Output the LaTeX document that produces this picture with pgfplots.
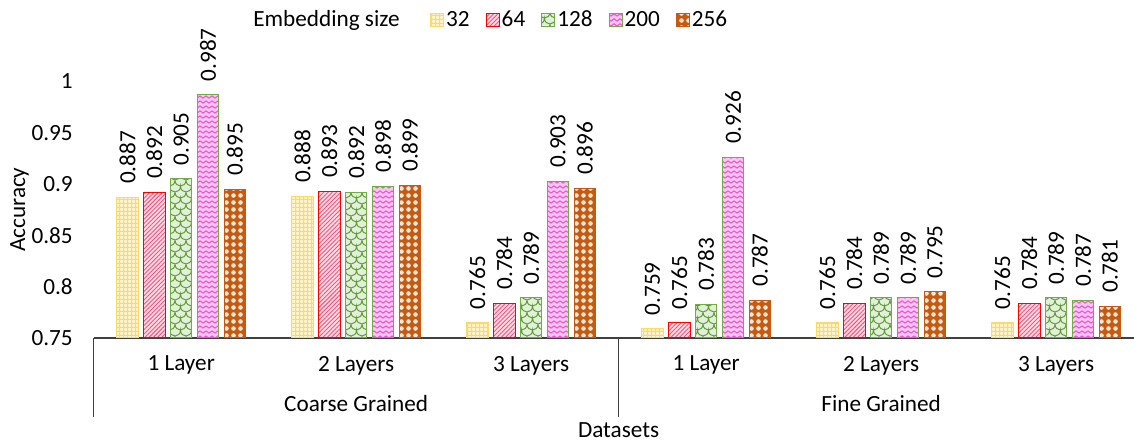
\documentclass[border=0pt]{standalone}
\usepackage{pgfplots}
\pgfplotsset{compat=1.18}
\usepackage{fontspec}
\setmainfont{Carlito}
\usetikzlibrary{patterns,patterns.meta}

\definecolor{c32line}{HTML}{FFD966}
\definecolor{c32fill}{HTML}{FFF5D0}
\definecolor{c32pat}{HTML}{FFD966}
\definecolor{c64line}{HTML}{FF0000}
\definecolor{c64fill}{HTML}{FFDCE6}
\definecolor{c64pat}{HTML}{FF4F78}
\definecolor{cgreen}{HTML}{70AD47}
\definecolor{c128fill}{HTML}{E2F0D9}
\definecolor{c128pat}{HTML}{5E9A3A}
\definecolor{c200fill}{HTML}{FFC6F2}
\definecolor{c200pat}{HTML}{EE55D5}
\definecolor{c256line}{HTML}{C55A11}
\definecolor{c256fill}{HTML}{C55A11}
\definecolor{c256pat}{HTML}{FBE5D6}
\definecolor{axgray}{HTML}{404040}

% small grid
\pgfdeclarepatternformonly{smallgrid}{\pgfqpoint{0pt}{0pt}}{\pgfqpoint{2pt}{2pt}}{\pgfqpoint{2pt}{2pt}}{%
  \pgfsetlinewidth{0.55pt}%
  \pgfpathmoveto{\pgfqpoint{0pt}{0.3pt}}\pgfpathlineto{\pgfqpoint{2pt}{0.3pt}}%
  \pgfpathmoveto{\pgfqpoint{0.3pt}{0pt}}\pgfpathlineto{\pgfqpoint{0.3pt}{2pt}}%
  \pgfusepath{stroke}}
% scales (shingle-like)
\pgfdeclarepatternformonly{scales}{\pgfqpoint{0pt}{0pt}}{\pgfqpoint{5.5pt}{6pt}}{\pgfqpoint{5.5pt}{6pt}}{%
  \pgfsetlinewidth{0.5pt}%
  \pgfpathmoveto{\pgfqpoint{0pt}{6pt}}%
  \pgfpathcurveto{\pgfqpoint{0pt}{2pt}}{\pgfqpoint{5.5pt}{2pt}}{\pgfqpoint{5.5pt}{6pt}}%
  \pgfpathmoveto{\pgfqpoint{-2.75pt}{3pt}}%
  \pgfpathcurveto{\pgfqpoint{-2.75pt}{-1pt}}{\pgfqpoint{2.75pt}{-1pt}}{\pgfqpoint{2.75pt}{3pt}}%
  \pgfpathcurveto{\pgfqpoint{2.75pt}{-1pt}}{\pgfqpoint{8.25pt}{-1pt}}{\pgfqpoint{8.25pt}{3pt}}%
  \pgfusepath{stroke}}
% zigzag (weave-like)
\pgfdeclarepatternformonly{zigzag}{\pgfqpoint{0pt}{0pt}}{\pgfqpoint{3pt}{2.4pt}}{\pgfqpoint{3pt}{2.4pt}}{%
  \pgfsetlinewidth{0.55pt}%
  \pgfpathmoveto{\pgfqpoint{-0.5pt}{0.1pt}}%
  \pgfpathlineto{\pgfqpoint{1.5pt}{1.6pt}}%
  \pgfpathlineto{\pgfqpoint{3.5pt}{0.1pt}}%
  \pgfusepath{stroke}}
% spheres
\pgfdeclarepatternformonly{spheres}{\pgfqpoint{0pt}{0pt}}{\pgfqpoint{3.5pt}{3.5pt}}{\pgfqpoint{3.5pt}{3.5pt}}{%
  \pgfpathcircle{\pgfqpoint{1.75pt}{1.75pt}}{1.15pt}%
  \pgfusepath{fill}}

\pgfplotstableread{
x s32 s64 s128 s200 s256
0 0.887 0.892 0.905 0.987 0.895
1 0.888 0.893 0.892 0.898 0.899
2 0.765 0.784 0.789 0.903 0.896
3 0.759 0.765 0.783 0.926 0.787
4 0.765 0.784 0.789 0.789 0.795
5 0.765 0.784 0.789 0.787 0.781
}\datatable

\begin{document}
\begin{tikzpicture}[font=\fontsize{11.6}{13.5}\selectfont]
\begin{axis}[
  scale only axis, width=520.2pt, height=128.25pt,
  xmin=-0.5, xmax=5.445, ymin=0.75, ymax=1,
  ybar, bar width=0.123,
  clip mode=individual,
  axis x line*=bottom, axis y line*=left,
  y axis line style={draw=none},
  x axis line style={axgray, line width=0.6pt},
  tick style={draw=none},
  major tick length=0pt,
  xtick={0,1,2,3,4,5},
  xticklabels={1 Layer, 2 Layers, 3 Layers, 1 Layer, 2 Layers, 3 Layers},
  xticklabel style={anchor=center, inner sep=0pt, yshift=-13.7pt},
  ytick={0.75,0.8,0.85,0.9,0.95,1},
  yticklabel style={anchor=east, inner sep=0pt, xshift=-10.3pt},
  /pgf/number format/assume math mode=true,
  ylabel={Accuracy},
  ylabel style={at={(rel axis cs:-0.0712,0.5)}, anchor=center, rotate=0},
  xlabel={Datasets},
  xlabel style={at={(rel axis cs:0.5046,0)}, anchor=center, yshift=-46.3pt},
  nodes near coords={\pgfmathprintnumber[fixed,precision=3,zerofill,assume math mode=true]{\pgfplotspointmeta}},
  every node near coord/.append style={rotate=90, anchor=west, inner xsep=6.5pt, inner ysep=0pt, text=black},
  legend style={draw=none, fill=none, at={(0.3235,1.2398)}, anchor=west,
    inner sep=0pt, outer sep=0pt,
    /tikz/every even column/.append style={column sep=7pt},
    nodes={inner sep=1pt}},
  legend columns=-1,
  legend image code/.code={\draw[#1, line width=0.5pt] (0pt,-3.25pt) rectangle (6.5pt,3.25pt);},
]
\addplot[bar shift=-0.307, draw=c32line, line width=0.5pt, fill=c32fill,
  postaction={pattern=smallgrid, pattern color=c32pat}] table[x=x,y=s32]{\datatable};
\addplot[bar shift=-0.1535, draw=c64line, line width=0.5pt, fill=c64fill,
  postaction={pattern={Lines[angle=45,distance=1.5pt,line width=0.45pt]}, pattern color=c64pat}] table[x=x,y=s64]{\datatable};
\addplot[bar shift=0, draw=cgreen, line width=0.5pt, fill=c128fill,
  postaction={pattern=scales, pattern color=c128pat}] table[x=x,y=s128]{\datatable};
\addplot[bar shift=0.1535, draw=cgreen, line width=0.5pt, fill=c200fill,
  postaction={pattern=zigzag, pattern color=c200pat}] table[x=x,y=s200]{\datatable};
\addplot[bar shift=0.307, draw=c256line, line width=0.5pt, fill=c256fill,
  postaction={pattern=spheres, pattern color=c256pat}] table[x=x,y=s256]{\datatable};
\legend{32,64,128,200,256}
\coordinate (bl) at (rel axis cs:0,0);
\coordinate (tr) at (rel axis cs:1,1);
\coordinate (tl) at (rel axis cs:0,1);
\coordinate (sepA) at (axis cs:-0.5,0.75);
\coordinate (sepB) at (axis cs:2.5,0.75);
\coordinate (gA) at (axis cs:1,0.75);
\coordinate (gB) at (axis cs:4,0.75);
\end{axis}
\draw[axgray, line width=0.6pt] (sepA) -- ++(0,-39.5pt);
\draw[axgray, line width=0.6pt] (sepB) -- ++(0,-39.5pt);
\node[anchor=center, inner sep=0pt] at ([yshift=-33pt]gA) {Coarse Grained};
\node[anchor=center, inner sep=0pt] at ([yshift=-33pt]gB) {Fine Grained};
\node[anchor=west, inner sep=0pt] at ([xshift=79.65pt, yshift=30.75pt]tl) {Embedding size};
\pgfresetboundingbox
\path ([xshift=-46.85pt,yshift=-53pt]bl) rectangle ([yshift=40.75pt]tr);
\end{tikzpicture}
\end{document}
